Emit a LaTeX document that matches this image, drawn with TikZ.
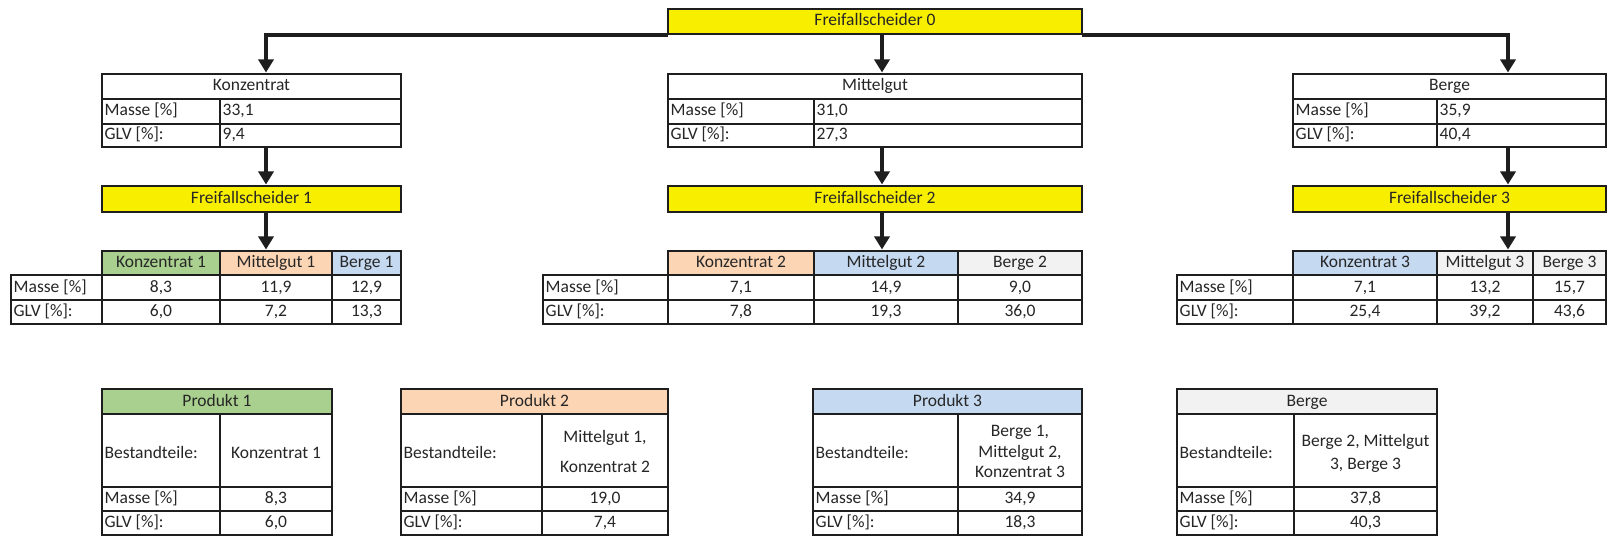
\documentclass[tikz,border=0pt]{standalone}
\usepackage{fontspec}
\setmainfont{Carlito}
\usetikzlibrary{arrows.meta}
\definecolor{linec}{HTML}{1E1E1E}
\definecolor{txtc}{HTML}{262626}
\definecolor{yelc}{HTML}{F8EE00}
\definecolor{grnc}{HTML}{A9D08E}
\definecolor{pchc}{HTML}{FCD5B4}
\definecolor{bluc}{HTML}{C5D9F1}
\definecolor{gryc}{HTML}{F2F2F2}
\newcommand{\cfont}{\fontsize{17.5}{21}\selectfont}
\newcommand{\mkcell}[6]{\node[cellst, fill=#6, minimum width={#4-#2}, minimum height={#5-#3}] (#1) at (#2,#3) {};}
\newcommand{\mkbox}[5]{\node[outerst, minimum width={#4-#2}, minimum height={#5-#3}] (#1) at (#2,#3) {};}
\newcommand{\mkfs}[5]{\node[fsst, minimum width={#4-#2}, minimum height={#5-#3}] (#1) at (#2,#3) {};}
\newcommand{\ctxt}[2]{\node[txt] (#1-t) at (#1.center) {#2};}
\newcommand{\ltxt}[2]{\node[txt, anchor=west] (#1-t) at ([xshift=2.5pt]#1.west) {#2};}
\begin{document}
\begin{tikzpicture}[x=1pt,y=-1pt,
  cellst/.style={draw=linec, line width=1.5pt, inner sep=0pt, outer sep=0pt, anchor=north west},
  outerst/.style={draw=linec, line width=2.8pt, inner sep=0pt, outer sep=0pt, anchor=north west},
  fsst/.style={draw=linec, fill=yelc, line width=2.8pt, inner sep=0pt, outer sep=0pt, anchor=north west},
  txt/.style={inner sep=0pt, text=txtc, font=\cfont, text height=12.5pt, text depth=3.5pt},
  mtxt/.style={inner sep=0pt, text=txtc, align=center},
  arr/.style={draw=linec, line width=3.6pt, shorten >=1.5pt, -{Triangle[width=15pt,length=13pt]}}]
\fill[white] (0,0) rectangle (1608,537);
\useasboundingbox (0,0) rectangle (1608,537);

% ---------- Freifallscheider 0
\mkfs{fs0}{668}{9}{1082}{34}
\ctxt{fs0}{Freifallscheider 0}

% ---------- level 1 boxes
\mkcell{k0h}{102}{74}{401}{99}{white}
\mkcell{k0ml}{102}{99}{220}{124}{white}
\mkcell{k0mv}{220}{99}{401}{124}{white}
\mkcell{k0gl}{102}{124}{220}{147}{white}
\mkcell{k0gv}{220}{124}{401}{147}{white}
\mkbox{konz}{102}{74}{401}{147}
\mkbox{konzh}{102}{74}{401}{99}
\ctxt{k0h}{Konzentrat}
\ltxt{k0ml}{Masse [\%]}
\ltxt{k0mv}{33,1}
\ltxt{k0gl}{GLV [\%]:}
\ltxt{k0gv}{9,4}

\mkcell{m0h}{668}{74}{1082}{99}{white}
\mkcell{m0ml}{668}{99}{814}{124}{white}
\mkcell{m0mv}{814}{99}{1082}{124}{white}
\mkcell{m0gl}{668}{124}{814}{147}{white}
\mkcell{m0gv}{814}{124}{1082}{147}{white}
\mkbox{mittel}{668}{74}{1082}{147}
\mkbox{mittelh}{668}{74}{1082}{99}
\ctxt{m0h}{Mittelgut}
\ltxt{m0ml}{Masse [\%]}
\ltxt{m0mv}{31,0}
\ltxt{m0gl}{GLV [\%]:}
\ltxt{m0gv}{27,3}

\mkcell{b0h}{1293}{74}{1606}{99}{white}
\mkcell{b0ml}{1293}{99}{1437}{124}{white}
\mkcell{b0mv}{1437}{99}{1606}{124}{white}
\mkcell{b0gl}{1293}{124}{1437}{147}{white}
\mkcell{b0gv}{1437}{124}{1606}{147}{white}
\mkbox{berge}{1293}{74}{1606}{147}
\mkbox{bergeh}{1293}{74}{1606}{99}
\ctxt{b0h}{Berge}
\ltxt{b0ml}{Masse [\%]}
\ltxt{b0mv}{35,9}
\ltxt{b0gl}{GLV [\%]:}
\ltxt{b0gv}{40,4}

% ---------- Freifallscheider 1-3
\mkfs{fs1}{102}{186}{401}{212}
\ctxt{fs1}{Freifallscheider 1}
\mkfs{fs2}{668}{186}{1082}{212}
\ctxt{fs2}{Freifallscheider 2}
\mkfs{fs3}{1293}{186}{1606}{212}
\ctxt{fs3}{Freifallscheider 3}

% ---------- result table 1
\mkcell{t1a}{102}{251}{220}{275}{grnc}
\mkcell{t1b}{220}{251}{332}{275}{pchc}
\mkcell{t1c}{332}{251}{401}{275}{bluc}
\mkcell{t1ml}{11}{275}{102}{300}{white}
\mkcell{t1m1}{102}{275}{220}{300}{white}
\mkcell{t1m2}{220}{275}{332}{300}{white}
\mkcell{t1m3}{332}{275}{401}{300}{white}
\mkcell{t1gl}{11}{300}{102}{324}{white}
\mkcell{t1g1}{102}{300}{220}{324}{white}
\mkcell{t1g2}{220}{300}{332}{324}{white}
\mkcell{t1g3}{332}{300}{401}{324}{white}
\mkbox{t1h}{102}{251}{401}{275}
\mkbox{t1d}{11}{275}{401}{324}
\ctxt{t1a}{Konzentrat 1}
\ctxt{t1b}{Mittelgut 1}
\ctxt{t1c}{Berge 1}
\ltxt{t1ml}{Masse [\%]}
\ctxt{t1m1}{8,3}
\ctxt{t1m2}{11,9}
\ctxt{t1m3}{12,9}
\ltxt{t1gl}{GLV [\%]:}
\ctxt{t1g1}{6,0}
\ctxt{t1g2}{7,2}
\ctxt{t1g3}{13,3}

% ---------- result table 2
\mkcell{t2a}{668}{251}{814}{275}{pchc}
\mkcell{t2b}{814}{251}{958}{275}{bluc}
\mkcell{t2c}{958}{251}{1082}{275}{gryc}
\mkcell{t2ml}{543}{275}{668}{300}{white}
\mkcell{t2m1}{668}{275}{814}{300}{white}
\mkcell{t2m2}{814}{275}{958}{300}{white}
\mkcell{t2m3}{958}{275}{1082}{300}{white}
\mkcell{t2gl}{543}{300}{668}{324}{white}
\mkcell{t2g1}{668}{300}{814}{324}{white}
\mkcell{t2g2}{814}{300}{958}{324}{white}
\mkcell{t2g3}{958}{300}{1082}{324}{white}
\mkbox{t2h}{668}{251}{1082}{275}
\mkbox{t2d}{543}{275}{1082}{324}
\ctxt{t2a}{Konzentrat 2}
\ctxt{t2b}{Mittelgut 2}
\ctxt{t2c}{Berge 2}
\ltxt{t2ml}{Masse [\%]}
\ctxt{t2m1}{7,1}
\ctxt{t2m2}{14,9}
\ctxt{t2m3}{9,0}
\ltxt{t2gl}{GLV [\%]:}
\ctxt{t2g1}{7,8}
\ctxt{t2g2}{19,3}
\ctxt{t2g3}{36,0}

% ---------- result table 3
\mkcell{t3a}{1293}{251}{1437}{275}{bluc}
\mkcell{t3b}{1437}{251}{1533}{275}{gryc}
\mkcell{t3c}{1533}{251}{1606}{275}{gryc}
\mkcell{t3ml}{1177}{275}{1293}{300}{white}
\mkcell{t3m1}{1293}{275}{1437}{300}{white}
\mkcell{t3m2}{1437}{275}{1533}{300}{white}
\mkcell{t3m3}{1533}{275}{1606}{300}{white}
\mkcell{t3gl}{1177}{300}{1293}{324}{white}
\mkcell{t3g1}{1293}{300}{1437}{324}{white}
\mkcell{t3g2}{1437}{300}{1533}{324}{white}
\mkcell{t3g3}{1533}{300}{1606}{324}{white}
\mkbox{t3h}{1293}{251}{1606}{275}
\mkbox{t3d}{1177}{275}{1606}{324}
\ctxt{t3a}{Konzentrat 3}
\ctxt{t3b}{Mittelgut 3}
\ctxt{t3c}{Berge 3}
\ltxt{t3ml}{Masse [\%]}
\ctxt{t3m1}{7,1}
\ctxt{t3m2}{13,2}
\ctxt{t3m3}{15,7}
\ltxt{t3gl}{GLV [\%]:}
\ctxt{t3g1}{25,4}
\ctxt{t3g2}{39,2}
\ctxt{t3g3}{43,6}

% ---------- product tables
% Produkt 1
\mkcell{p1h}{102}{389}{332}{414}{grnc}
\mkcell{p1bl}{102}{414}{220}{487}{white}
\mkcell{p1bv}{220}{414}{332}{487}{white}
\mkcell{p1ml}{102}{487}{220}{511}{white}
\mkcell{p1mv}{220}{487}{332}{511}{white}
\mkcell{p1gl}{102}{511}{220}{535}{white}
\mkcell{p1gv}{220}{511}{332}{535}{white}
\mkbox{p1}{102}{389}{332}{535}
\mkbox{p1hb}{102}{389}{332}{414}
\ctxt{p1h}{Produkt 1}
\node[txt, anchor=west, yshift=-3pt] (p1bl-t) at ([xshift=2.5pt]p1bl.west) {Bestandteile:};
\node[txt, yshift=-3pt] (p1bv-t) at (p1bv.center) {Konzentrat 1};
\ltxt{p1ml}{Masse [\%]}
\ctxt{p1mv}{8,3}
\ltxt{p1gl}{GLV [\%]:}
\ctxt{p1gv}{6,0}

% Produkt 2
\mkcell{p2h}{401}{389}{668}{414}{pchc}
\mkcell{p2bl}{401}{414}{542}{487}{white}
\mkcell{p2bv}{542}{414}{668}{487}{white}
\mkcell{p2ml}{401}{487}{542}{511}{white}
\mkcell{p2mv}{542}{487}{668}{511}{white}
\mkcell{p2gl}{401}{511}{542}{535}{white}
\mkcell{p2gv}{542}{511}{668}{535}{white}
\mkbox{p2}{401}{389}{668}{535}
\mkbox{p2hb}{401}{389}{668}{414}
\ctxt{p2h}{Produkt 2}
\node[txt, anchor=west, yshift=-3pt] (p2bl-t) at ([xshift=2.5pt]p2bl.west) {Bestandteile:};
\node[mtxt, font=\fontsize{17.5}{30}\selectfont, yshift=-1pt] (p2bv-t) at (p2bv.center) {Mittelgut 1,\\Konzentrat 2};
\ltxt{p2ml}{Masse [\%]}
\ctxt{p2mv}{19,0}
\ltxt{p2gl}{GLV [\%]:}
\ctxt{p2gv}{7,4}

% Produkt 3
\mkcell{p3h}{813}{389}{1082}{414}{bluc}
\mkcell{p3bl}{813}{414}{958}{487}{white}
\mkcell{p3bv}{958}{414}{1082}{487}{white}
\mkcell{p3ml}{813}{487}{958}{511}{white}
\mkcell{p3mv}{958}{487}{1082}{511}{white}
\mkcell{p3gl}{813}{511}{958}{535}{white}
\mkcell{p3gv}{958}{511}{1082}{535}{white}
\mkbox{p3}{813}{389}{1082}{535}
\mkbox{p3hb}{813}{389}{1082}{414}
\ctxt{p3h}{Produkt 3}
\node[txt, anchor=west, yshift=-3pt] (p3bl-t) at ([xshift=2.5pt]p3bl.west) {Bestandteile:};
\node[mtxt, font=\fontsize{17.5}{20.5}\selectfont, yshift=-1pt] (p3bv-t) at (p3bv.center) {Berge 1,\\Mittelgut 2,\\Konzentrat 3};
\ltxt{p3ml}{Masse [\%]}
\ctxt{p3mv}{34,9}
\ltxt{p3gl}{GLV [\%]:}
\ctxt{p3gv}{18,3}

% Berge
\mkcell{p4h}{1177}{389}{1437}{414}{gryc}
\mkcell{p4bl}{1177}{414}{1294}{487}{white}
\mkcell{p4bv}{1294}{414}{1437}{487}{white}
\mkcell{p4ml}{1177}{487}{1294}{511}{white}
\mkcell{p4mv}{1294}{487}{1437}{511}{white}
\mkcell{p4gl}{1177}{511}{1294}{535}{white}
\mkcell{p4gv}{1294}{511}{1437}{535}{white}
\mkbox{p4}{1177}{389}{1437}{535}
\mkbox{p4hb}{1177}{389}{1437}{414}
\ctxt{p4h}{Berge}
\node[txt, anchor=west, yshift=-3pt] (p4bl-t) at ([xshift=2.5pt]p4bl.west) {Bestandteile:};
\node[mtxt, font=\fontsize{17.5}{22.6}\selectfont, yshift=-3pt] (p4bv-t) at (p4bv.center) {Berge 2, Mittelgut\\3, Berge 3};
\ltxt{p4ml}{Masse [\%]}
\ctxt{p4mv}{37,8}
\ltxt{p4gl}{GLV [\%]:}
\ctxt{p4gv}{40,3}

% ---------- connectors
\coordinate (ax1) at (266,0);
\coordinate (ax2) at (882,0);
\coordinate (ax3) at (1508,0);
\draw[arr] ([yshift=-1pt]fs0.south west) -| (konz.north -| ax1);
\draw[arr] ([yshift=-1pt]fs0.south east) -| (berge.north -| ax3);
\draw[arr] (fs0.south -| ax2) -- (mittel.north -| ax2);
\draw[arr] (konz.south -| ax1) -- (fs1.north -| ax1);
\draw[arr] (mittel.south -| ax2) -- (fs2.north -| ax2);
\draw[arr] (berge.south -| ax3) -- (fs3.north -| ax3);
\draw[arr] (fs1.south -| ax1) -- (t1h.north -| ax1);
\draw[arr] (fs2.south -| ax2) -- (t2h.north -| ax2);
\draw[arr] (fs3.south -| ax3) -- (t3h.north -| ax3);
\end{tikzpicture}
\end{document}
